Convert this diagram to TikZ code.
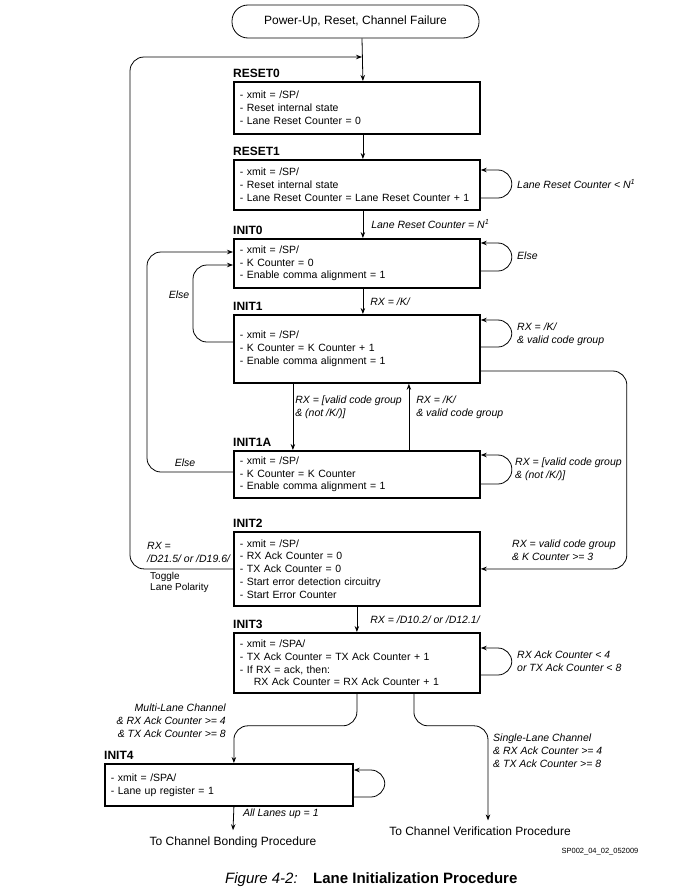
\documentclass[tikz,border=0pt]{standalone}
\usepackage{fontspec}
\setmainfont{Liberation Sans}
\usetikzlibrary{arrows.meta,positioning}
\tikzset{
  state/.style={draw, line width=1.8pt, anchor=north west, text width=234pt,
    inner xsep=6pt, inner ysep=0pt, align=left,
    font=\fontsize{10.5}{12.8}\selectfont},
  statename/.style={font=\fontsize{12}{14}\selectfont\bfseries, inner sep=0pt},
  cond/.style={font=\fontsize{10.5}{12.8}\selectfont\itshape, align=left, inner sep=0pt},
  plain/.style={font=\fontsize{10}{11.5}\selectfont, align=left, inner sep=0pt},
  terminal/.style={draw, line width=0.8pt, rounded corners=16pt, minimum width=247pt,
    minimum height=33pt, font=\fontsize{12}{14}\selectfont},
  endtext/.style={font=\fontsize{12}{14}\selectfont, inner xsep=0pt, inner ysep=6pt},
  flow/.style={->, line width=0.8pt},
  bendflow/.style={flow, rounded corners=14pt}
}
\begin{document}
\begin{tikzpicture}[x=1pt, y=-1pt, >={Stealth[length=6pt,width=4.5pt]}]
  \useasboundingbox (0,0) rectangle (691,894);

  \node[terminal] (start) at (355.5,21.5) {Power-Up, Reset, Channel Failure};

  \node[state, minimum height=52pt] (reset0) at (233,81)
    {- xmit = /SP/\\- Reset internal state\\- Lane Reset Counter = 0};
  \node[state, minimum height=50pt] (reset1) at (233,159)
    {- xmit = /SP/\\- Reset internal state\\- Lane Reset Counter = Lane Reset Counter + 1};
  \node[state, minimum height=49pt] (init0) at (233,238)
    {- xmit = /SP/\\- K Counter = 0\\- Enable comma alignment = 1};
  \node[state, minimum height=68pt] (init1) at (233,314)
    {- xmit = /SP/\\- K Counter = K Counter + 1\\- Enable comma alignment = 1};
  \node[state, minimum height=47pt] (init1a) at (233,450)
    {- xmit = /SP/\\- K Counter = K Counter\\- Enable comma alignment = 1};
  \node[state, minimum height=74pt] (init2) at (233,531)
    {- xmit = /SP/\\- RX Ack Counter = 0\\- TX Ack Counter = 0\\- Start error detection circuitry\\- Start Error Counter};
  \node[state, minimum height=60pt] (init3) at (233,632)
    {- xmit = /SPA/\\- TX Ack Counter = TX Ack Counter + 1\\- If RX = ack, then:\\\hspace*{14pt}RX Ack Counter = RX Ack Counter + 1};
  \node[state, text width=236pt, minimum height=42pt] (init4) at (104,763)
    {- xmit = /SPA/\\- Lane up register = 1};

  \node[statename, above right=3.5pt and 0pt of reset0.north west] (reset0-name) {RESET0};
  \node[statename, above right=3.5pt and 0pt of reset1.north west] (reset1-name) {RESET1};
  \node[statename, above right=3.5pt and 0pt of init0.north west] (init0-name) {INIT0};
  \node[statename, above right=3.5pt and 0pt of init1.north west] (init1-name) {INIT1};
  \node[statename, above right=3.5pt and 0pt of init1a.north west] (init1a-name) {INIT1A};
  \node[statename, above right=3.5pt and 0pt of init2.north west] (init2-name) {INIT2};
  \node[statename, above right=3.5pt and 0pt of init3.north west] (init3-name) {INIT3};
  \node[statename, above right=3.5pt and 0pt of init4.north west] (init4-name) {INIT4};

  \node[endtext] (bond) at (233,842) {To Channel Bonding Procedure};
  \node[endtext] (verify) at (480,831) {To Channel Verification Procedure};
  \coordinate (rejoin) at (362,57);

  % main chain
  \draw[flow] ([xshift=6.5pt]start.south) -- ([xshift=6pt]reset0.north);
  \draw[flow] ([xshift=6pt]reset0.south) -- ([xshift=6pt]reset1.north);
  \draw[flow] ([xshift=6pt]reset1.south) -- ([xshift=6pt]init0.north)
    node[cond, midway, right=8pt] (reset1-exit) {Lane Reset Counter = N\textsuperscript{1}};
  \draw[flow] ([xshift=6pt]init0.south) -- ([xshift=6pt]init1.north)
    node[cond, midway, right=7pt] (init0-exit) {RX = /K/};
  \draw[flow] ([xshift=-64pt]init1.south) -- ([xshift=-64pt]init1a.north)
    node[cond, pos=0.36, right=2pt] (init1-down) {RX = [valid code group\\\& (not /K/)]};
  \draw[flow] ([xshift=52pt]init1a.north) -- ([xshift=52pt]init1.south)
    node[cond, pos=0.64, right=7pt] (init1a-up) {RX = /K/\\\& valid code group};
  \draw[flow] (init2.south) -- (init3.north)
    node[cond, midway, right=13pt] (init2-exit) {RX = /D10.2/ or /D12.1/};

  % self loops
  \draw[bendflow] ([yshift=-39pt]reset1.north east) -- ++(31,0) -- ++(0,-28) -- ([yshift=-11pt]reset1.north east);
  \draw[bendflow] ([yshift=-33pt]init0.north east) -- ++(31,0) -- ++(0,-28) -- ([yshift=-5pt]init0.north east);
  \draw[bendflow] ([yshift=-33pt]init1.north east) -- ++(31,0) -- ++(0,-27) -- ([yshift=-6pt]init1.north east);
  \draw[bendflow] ([yshift=-34pt]init1a.north east) -- ++(31,0) -- ++(0,-29) -- ([yshift=-5pt]init1a.north east);
  \draw[bendflow] ([yshift=-43pt]init3.north east) -- ++(31,0) -- ++(0,-27) -- ([yshift=-16pt]init3.north east);
  \draw[bendflow] ([yshift=-34pt]init4.north east) -- ++(31,0) -- ++(0,-27) -- ([yshift=-7pt]init4.north east);
  \node[cond, anchor=west] (reset1-loop) at (517,184) {Lane Reset Counter < N\textsuperscript{1}};
  \node[cond, anchor=west] (init0-loop) at (517,256) {Else};
  \node[cond, anchor=west] (init1-loop) at (517,334) {RX = /K/\\\& valid code group};
  \node[cond, anchor=west] (init1a-loop) at (515,469.5) {RX = [valid code group\\\& (not /K/)]};
  \node[cond, anchor=west] (init3-loop) at (517,661.5) {RX Ack Counter < 4\\or TX Ack Counter < 8};

  % back edges
  \draw[bendflow] ([yshift=-28pt]init1.north west) -- ++(-40,0) |- ([yshift=-27pt]init0.north west);
  \draw[bendflow] ([yshift=-22pt]init1a.north west) -- ++(-86,0) |- ([yshift=-14pt]init0.north west);
  \draw[bendflow] (init2.west) -- ++(-103,0) |- (rejoin);
  \draw[bendflow] ([yshift=-57pt]init1.north east) -- ++(146,0) |- (init2.east);
  \node[cond, anchor=center] (init1-else) at (179,294.5) {Else};
  \node[cond, anchor=center] (init1a-else) at (185,463) {Else};
  \node[cond, anchor=west] (init2-back) at (147,552.5) {RX =\\/D21.5/ or /D19.6/};
  \node[plain, anchor=west] (init2-toggle) at (150,582.5) {Toggle\\Lane Polarity};
  \node[cond, anchor=west] (init1-skip) at (512,550.5) {RX = valid code group\\\& K Counter >= 3};

  % exits from INIT3 and INIT4
  \draw[bendflow] (init3.south) -- ++(0,32) -| ([xshift=5pt]init4.north);
  \draw[bendflow] ([xshift=57pt]init3.south) -- ++(0,32) -| ([xshift=8pt]verify.north);
  \draw[flow] ([xshift=5pt]init4.south) -- (bond.north)
    node[cond, pos=0.3, right=9pt] (init4-exit) {All Lanes up = 1};
  \node[cond, anchor=east, align=right] (multi-lane) at (226,721)
    {Multi-Lane Channel\\\& RX Ack Counter >= 4\\\& TX Ack Counter >= 8};
  \node[cond, anchor=west] (single-lane) at (493,751)
    {Single-Lane Channel\\\& RX Ack Counter >= 4\\\& TX Ack Counter >= 8};

  \node[font=\fontsize{7.5}{9}\selectfont] (fig-id) at (600,852) {SP002\_04\_02\_052009};
  \node[font=\fontsize{15}{17}\selectfont\itshape, anchor=base west, inner sep=0pt] (fig-num) at (225,883) {Figure 4-2:};
  \node[font=\fontsize{15}{17}\selectfont\bfseries, anchor=base west, inner sep=0pt] (fig-title) at (313,883) {Lane Initialization Procedure};
\end{tikzpicture}
\end{document}
